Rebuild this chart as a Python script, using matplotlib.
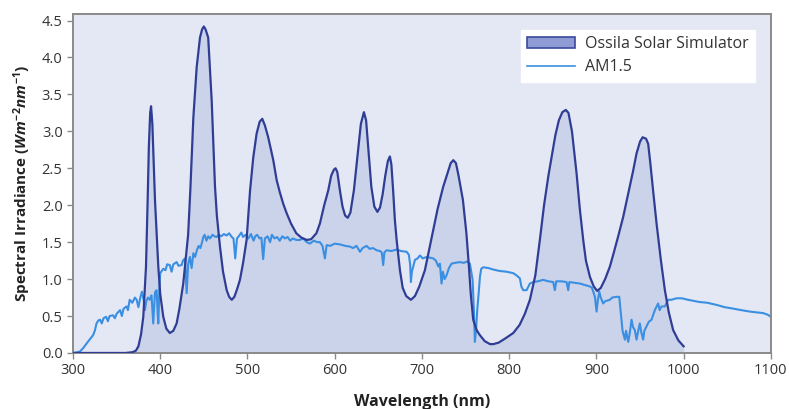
import matplotlib
matplotlib.use("Agg")
import matplotlib.pyplot as plt
from matplotlib.patches import Patch
from matplotlib.lines import Line2D

plt.rcParams['font.family'] = ['Open Sans', 'DejaVu Sans']
plt.rcParams['mathtext.fontset'] = 'custom'
plt.rcParams['mathtext.it'] = 'Open Sans:italic:bold'
plt.rcParams['mathtext.rm'] = 'Open Sans:bold'
plt.rcParams['mathtext.bf'] = 'Open Sans:bold'

# Ossila solar simulator spectrum
sim_nm = [300, 320, 340, 360, 368, 372, 375, 378, 380.6, 382, 383.7, 385.6, 387, 388.5, 389.5,
          391, 392.5, 394, 397.8, 400, 403.5, 407, 411, 415, 418.8, 422, 426.4, 432, 434.5,
          438, 441.8, 445.6, 448, 450, 452, 455, 459, 462.8, 465, 468.5, 472, 476.2, 479, 482,
          485, 488, 491.4, 495, 499, 503, 506.7, 510.5, 514, 517, 520, 523.8, 529.6, 533.5,
          537, 541, 545, 550, 556, 562, 568, 573, 579, 583, 588, 592.6, 596, 599, 601, 603,
          606, 609, 612, 615, 618, 622, 626, 630, 633.5, 636, 639, 642, 645.5, 649, 652, 655,
          658, 661, 663.3, 665, 667, 669, 671, 674.8, 678, 682, 687.4, 692, 697, 703.4, 708,
          713, 718, 724.4, 729, 733, 736, 739, 742, 747, 749, 751, 754, 756, 758.8, 762.7,
          766.5, 772, 778, 782, 788, 796, 804.7, 812, 818, 823.8, 830, 835.2, 840, 845, 848.6,
          853, 857, 861, 865, 868, 872, 877.3, 881, 884.9, 888, 892.6, 897, 900.9, 905, 910,
          915.5, 920, 925, 930.7, 936, 942.2, 946, 950, 953, 957, 959.4, 962, 965, 969, 974,
          978.5, 983, 988, 994, 1000]
sim_val = [0, 0, 0, 0, 0.01, 0.03, 0.09, 0.25, 0.49, 0.8, 1.17, 2.07, 2.8, 3.25, 3.34,
           3.1, 2.6, 2.07, 1.17, 0.8, 0.49, 0.33, 0.27, 0.3, 0.4, 0.6, 0.94, 1.6, 2.2,
           3.19, 3.87, 4.27, 4.38, 4.42, 4.38, 4.27, 3.42, 2.25, 1.85, 1.44, 1.1, 0.85, 0.76, 0.72,
           0.76, 0.86, 0.99, 1.22, 1.53, 2.2, 2.65, 2.97, 3.13, 3.17, 3.08, 2.92, 2.61, 2.34,
           2.18, 2.02, 1.89, 1.75, 1.62, 1.56, 1.53, 1.54, 1.62, 1.75, 2.0, 2.2, 2.4, 2.48, 2.5, 2.45,
           2.2, 1.98, 1.86, 1.83, 1.9, 2.2, 2.65, 3.1, 3.26, 3.15, 2.7, 2.25, 1.98, 1.91, 1.97, 2.15,
           2.4, 2.6, 2.66, 2.55, 2.2, 1.8, 1.53, 1.12, 0.88, 0.77, 0.72, 0.77, 0.9, 1.12, 1.38,
           1.66, 1.95, 2.25, 2.42, 2.57, 2.61, 2.57, 2.4, 2.07, 1.85, 1.62, 1.15, 0.8, 0.45, 0.31,
           0.24, 0.16, 0.12, 0.12, 0.14, 0.2, 0.27, 0.38, 0.53, 0.72, 1.05, 1.53, 2.0, 2.4, 2.65,
           2.95, 3.15, 3.26, 3.29, 3.25, 3.0, 2.43, 1.95, 1.53, 1.25, 1.03, 0.9, 0.84, 0.88, 1.0,
           1.17, 1.36, 1.58, 1.84, 2.13, 2.47, 2.7, 2.86, 2.92, 2.9, 2.83, 2.55, 2.2, 1.75, 1.25,
           0.85, 0.55, 0.31, 0.17, 0.09]

# AM1.5 reference spectrum
am_nm = [300, 305, 308, 312, 315.7, 319, 323, 325, 327, 329, 331, 333, 335, 338, 340, 342, 346,
         348, 350, 354, 356, 358, 361.5, 363, 365, 368, 371, 373, 375, 377, 379, 381, 382.5, 384,
         386, 388, 390, 392, 394, 395.9, 397, 397.8, 399, 400, 403.5, 406, 408, 411, 413, 415,
         418.8, 421, 424.6, 426, 428.4, 430.3, 432, 434, 436, 438, 440, 442, 444, 446, 448, 449.4,
         451, 453, 455, 457, 460, 462, 464.7, 467, 470, 473, 476, 479, 482, 484, 486, 488, 490,
         493, 495, 498, 501, 504, 507, 509, 511, 514, 516, 518, 520, 523, 526, 528, 531, 534,
         537, 540, 543, 546, 549, 552, 556, 560, 564, 568, 571.6, 576, 580, 583, 586, 588.8,
         590.8, 595, 600, 606, 612, 617.5, 621, 625, 629, 632, 636.6, 640, 644, 648, 652, 654,
         655.6, 657, 659.4, 665, 670.9, 676, 682.4, 685, 686.5, 687.4, 688.5, 692, 695, 697.7,
         701, 705.4, 709, 713, 716, 718.8, 720.6, 722.5, 724, 726, 728.2, 731, 734, 738, 743.5,
         748, 752, 755, 758.1, 759.5, 760.7, 762, 763.4, 765, 766.5, 768, 770.3, 776, 781.7,
         789, 797, 804.7, 808.5, 812.3, 814, 816.1, 820, 823.8, 827.6, 833, 839, 845, 850.5,
         852.4, 854, 860, 865.8, 867.7, 869, 875, 881.1, 887, 892.6, 895, 898.3, 900.2, 901.5,
         903.3, 905, 907.8, 910, 915.5, 918, 923.1, 926.2, 927.7, 930, 932.7, 934, 936.5, 938,
         940.3, 942, 944.1, 946, 948, 949.8, 951.5, 953.6, 955, 957.5, 960, 963.2, 967, 970.8,
         972.5, 974.7, 978.5, 982.3, 986, 991.8, 998, 1005, 1018, 1027, 1038, 1047, 1057, 1066,
         1076, 1084, 1091, 1096, 1100]
am_val = [0, 0.01, 0.02, 0.07, 0.13, 0.18, 0.24, 0.3, 0.4, 0.44, 0.45, 0.4, 0.47, 0.49, 0.43, 0.5, 0.51,
          0.47, 0.53, 0.58, 0.5, 0.6, 0.63, 0.58, 0.72, 0.68, 0.75, 0.72, 0.62, 0.74, 0.83, 0.72, 0.58, 0.7,
          0.75, 0.72, 0.78, 0.4, 0.82, 0.85, 0.55, 0.4, 0.85, 1.08, 1.14, 1.12, 1.2, 1.19, 1.1, 1.2,
          1.23, 1.18, 1.19, 1.25, 1.28, 0.81, 1.2, 1.3, 1.15, 1.35, 1.3, 1.39, 1.45, 1.42, 1.5, 1.57,
          1.6, 1.52, 1.58, 1.55, 1.6, 1.58, 1.57, 1.6, 1.58, 1.61, 1.59, 1.62, 1.57, 1.55, 1.28, 1.55, 1.58,
          1.63, 1.57, 1.6, 1.55, 1.61, 1.52, 1.58, 1.6, 1.55, 1.56, 1.27, 1.55, 1.58, 1.5, 1.6, 1.55, 1.57,
          1.52, 1.58, 1.55, 1.57, 1.52, 1.55, 1.53, 1.53, 1.55, 1.5, 1.48, 1.52, 1.5, 1.5, 1.45, 1.28,
          1.46, 1.45, 1.48, 1.47, 1.45, 1.44, 1.42, 1.45, 1.37, 1.42, 1.45, 1.41, 1.42, 1.39, 1.38, 1.36,
          1.19, 1.36, 1.39, 1.38, 1.4, 1.38, 1.37, 1.33, 1.2, 0.96, 1.1, 1.26, 1.28, 1.32,
          1.28, 1.3, 1.29, 1.28, 1.25, 1.17, 1.21, 0.94, 1.1, 1.0, 1.05, 1.15, 1.21, 1.22, 1.23,
          1.22, 1.24, 1.21, 0.99, 0.6, 0.15, 0.3, 0.58, 0.8, 1.03, 1.14, 1.16, 1.15, 1.13,
          1.11, 1.1, 1.08, 1.05, 1.01, 0.9, 0.85, 0.85, 0.94, 0.96, 0.97, 0.99, 0.97, 0.96,
          0.85, 0.97, 0.97, 0.96, 0.85, 0.96, 0.95, 0.94, 0.92, 0.9, 0.88, 0.76, 0.56, 0.7,
          0.83, 0.75, 0.67, 0.7, 0.72, 0.75, 0.76, 0.76, 0.58, 0.3, 0.18, 0.3, 0.15, 0.25,
          0.45, 0.35, 0.31, 0.18, 0.3, 0.4, 0.28, 0.18, 0.3, 0.36, 0.42, 0.45, 0.58, 0.67,
          0.58, 0.63, 0.63, 0.72, 0.72, 0.74, 0.74, 0.72, 0.69, 0.68, 0.65, 0.62, 0.6, 0.58,
          0.56, 0.55, 0.54, 0.52, 0.49]

x_ticks = [300, 400, 500, 600, 700, 800, 900, 1000, 1100]
y_ticks = [0.0, 0.5, 1.0, 1.5, 2.0, 2.5, 3.0, 3.5, 4.0, 4.5]

sim_line = '#2f3e94'
sim_fill = '#cbd3ea'
am_color = '#3a8fe2'
spine_col = '#8a8a8a'

fig = plt.figure(figsize=(7.89, 4.09), dpi=100)
ax = fig.add_axes([0.0925, 0.137, 0.8845, 0.829])
ax.set_facecolor('#e4e8f5')

ax.fill_between(sim_nm, sim_val, 0, color=sim_fill, lw=0, zorder=1)
ax.plot(am_nm, am_val, color=am_color, lw=1.5, zorder=2)
ax.plot(sim_nm, sim_val, color=sim_line, lw=1.6, zorder=3)

ax.set_xlim(300, 1100)
ax.set_ylim(0, 4.59)
ax.set_xticks(x_ticks)
ax.set_yticks(y_ticks)
ax.set_yticklabels(['%.1f' % v for v in y_ticks])

for s in ax.spines.values():
    s.set_color(spine_col)
    s.set_linewidth(1.4)
ax.tick_params(colors=spine_col, labelcolor='#333333', labelsize=10.5, length=4, width=1)

ax.set_xlabel('Wavelength (nm)', fontsize=11.5, fontweight='bold', color='#222222', labelpad=11)
ax.set_ylabel(r'Spectral Irradiance ($Wm^{-2}nm^{-1}$)', fontsize=11, fontweight='bold',
              color='#222222', labelpad=6)

handles = [Patch(facecolor='#8e9bd4', edgecolor='#3a4a9c', lw=1.2),
           Line2D([0], [0], color=am_color, lw=1.2)]
leg = ax.legend(handles, ['Ossila Solar Simulator', 'AM1.5'], loc='upper right',
                fontsize=11.5, frameon=True, fancybox=False, borderaxespad=1.0,
                handlelength=3.0, handletextpad=0.6, labelspacing=0.45)
leg.get_frame().set_facecolor('white')
leg.get_frame().set_edgecolor('white')
leg.get_frame().set_alpha(1)
for t in leg.get_texts():
    t.set_color('#333333')

fig.savefig('out.png', dpi=100)
